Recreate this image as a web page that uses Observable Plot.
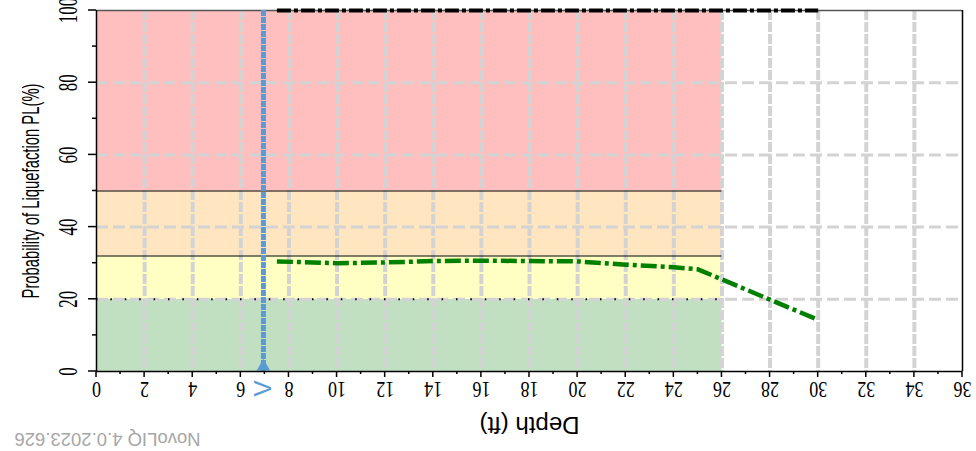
<!DOCTYPE html>
<html>
<head>
<meta charset="utf-8">
<script src="https://cdn.jsdelivr.net/npm/d3@7"></script>
<script src="https://cdn.jsdelivr.net/npm/@observablehq/plot@0.6"></script>
<style>
  html, body { margin: 0; padding: 0; background: #fff; }
  #chart svg { display: block; }
</style>
</head>
<body>
<div id="chart"></div>
<script>
// ---- data ----
const depthTicks = [0,2,4,6,8,10,12,14,16,18,20,22,24,26,28,30,32,34,36];
const depthMinor = d3.range(0, 37, 1);
const plTicks = [0,20,40,60,80,100];
const plMinor = [10,30,50,70,90];
const gridDepths = [2,4,6,8,10,12,14,16,18,20,22,24,26,28,30,32,34];
const gridPL = [20,40,60,80];

const bandLow = [0, 20, 32, 50];
const bandHigh = [20, 32, 50, 100];
const bandColors = ["#c1dfc1", "#ffffc3", "#ffe6c0", "#ffbfbf"];
const bandDepthEnd = 26;
const bandBorders = [32, 50];

const depth = [7.5, 10, 12, 14, 16, 20, 22, 24, 25, 26, 28, 30];
const pl    = [30.5, 30.0, 30.2, 30.6, 30.7, 30.5, 29.6, 28.9, 28.3, 25.5, 19.9, 14.3];

const topDepth = [7.5, 30];
const topPL = [100, 100];

const waterTable = 6.94;

const xLabel = "Depth (ft)";
const yLabel = "Probability of Liquefaction PL(%)";
const version = "NovoLIQ 4.0.2023.626";

// ---- tables ----
const bands = bandLow.map((lo, i) => ({lo, hi: bandHigh[i], color: bandColors[i]}));
const curve = depth.map((d, i) => ({d, p: pl[i]}));
const topLine = topDepth.map((d, i) => ({d, p: topPL[i]}));
const ticksX = depthMinor.map(d => ({d, len: d % 2 === 0 ? 6 : 3}));
const ticksY = plTicks.concat(plMinor).map(p => ({p, len: p % 20 === 0 ? 8 : 4}));

const serif = "Liberation Serif, Times New Roman, serif";
const sans = "Liberation Sans, Arial, sans-serif";

const chart = Plot.plot({
  width: 976,
  height: 451,
  marginLeft: 96,
  marginRight: 14,
  marginTop: 10,
  marginBottom: 80,
  x: {type: "linear", domain: [0, 36], axis: null},
  y: {type: "linear", domain: [0, 100], axis: null},
  style: {background: "#fff", overflow: "visible"},
  marks: [
    // bands
    Plot.rect(bands, {x1: 0, x2: bandDepthEnd, y1: "lo", y2: "hi", fill: "color"}),
    // grid
    Plot.ruleY(gridPL, {stroke: "#d3d3d3", strokeWidth: 3, strokeDasharray: "12,5"}),
    Plot.ruleX(gridDepths, {stroke: "#d3d3d3", strokeWidth: 4, strokeDasharray: "10,2"}),
    // band borders
    Plot.ruleY(bandBorders, {x1: 0, x2: bandDepthEnd, stroke: "#000", strokeWidth: 1.2}),
    Plot.ruleY([20], {x1: 0, x2: bandDepthEnd, stroke: "#000", strokeWidth: 2, strokeDasharray: "1.5,12.9"}),
    // frame
    Plot.ruleY([100], {stroke: "#555", strokeWidth: 1.5}),
    Plot.ruleX([36], {stroke: "#000", strokeWidth: 1.5}),
    // water table
    Plot.ruleX([waterTable], {stroke: "#5b9bd5", strokeWidth: 5, strokeDasharray: "6,1"}),
    Plot.dot([waterTable], {x: d => d, y: 0, dy: -5, symbol: "triangle", r: 5, fill: "#5b9bd5"}),
    Plot.text([waterTable], {x: d => d, y: 0, dy: 17, text: () => "V", rotate: -90, fill: "#5b9bd5", fontSize: 24, fontFamily: sans}),
    // top black dash-dot
    Plot.line(topLine, {x: "d", y: "p", stroke: "#000", strokeWidth: 4, strokeLinecap: "butt", strokeDasharray: "14,3,4,3"}),
    // curve
    Plot.line(curve, {x: "d", y: "p", stroke: "#008000", strokeWidth: 4.5, strokeLinecap: "butt", strokeDasharray: "16,4,4,4"}),
    // axes
    Plot.ruleX([0], {stroke: "#000", strokeWidth: 1.5}),
    Plot.ruleY([0], {stroke: "#000", strokeWidth: 1.5}),
    Plot.text(depthTicks, {x: d => d, y: 0, dy: 18, text: d => String(d), rotate: 180, fontSize: 23, fontFamily: serif, fill: "#000", className: "xtick"}),
    Plot.text(plTicks, {x: 0, y: d => d, dx: -28, text: d => String(d), rotate: -90, fontSize: 28, fontFamily: serif, fill: "#000", className: "ytick"}),
    Plot.text([xLabel], {frameAnchor: "bottom", dy: 45, text: d => d, rotate: 180, fontSize: 24, fontFamily: sans, fill: "#000"}),
    Plot.text([yLabel], {frameAnchor: "left", dx: -65, text: d => d, rotate: -90, textAnchor: "middle", fontSize: 24, fontFamily: sans, fill: "#000", className: "ylab"}),
    Plot.text([version], {frameAnchor: "bottom-left", dx: 11, dy: 61, text: d => d, rotate: 180, textAnchor: "middle", fontSize: 18.5, fontFamily: sans, fill: "#a6a6a6"})
  ]
});

document.getElementById("chart").appendChild(chart);

// tick marks (major / minor) positioned with the plot's scales
const sx = chart.scale("x"), sy = chart.scale("y");
const svg = d3.select(chart);
const g = svg.append("g").attr("stroke", "#000").attr("stroke-width", 1.5);
ticksX.forEach(t => {
  g.append("line").attr("x1", sx.apply(t.d)).attr("x2", sx.apply(t.d))
    .attr("y1", sy.apply(0)).attr("y2", sy.apply(0) + t.len);
});
ticksY.forEach(t => {
  g.append("line").attr("y1", sy.apply(t.p)).attr("y2", sy.apply(t.p))
    .attr("x1", sx.apply(0)).attr("x2", sx.apply(0) - t.len);
});
svg.selectAll(".ylab text").attr("textLength", 215).attr("lengthAdjust", "spacingAndGlyphs");
svg.selectAll(".ytick text").each(function() {
  const t = d3.select(this).text();
  d3.select(this).attr("textLength", t.length * 8.5).attr("lengthAdjust", "spacingAndGlyphs");
});
svg.selectAll(".xtick text").each(function() {
  const t = d3.select(this).text();
  d3.select(this).attr("textLength", t.length * 9).attr("lengthAdjust", "spacingAndGlyphs");
});
</script>
</body>
</html>
